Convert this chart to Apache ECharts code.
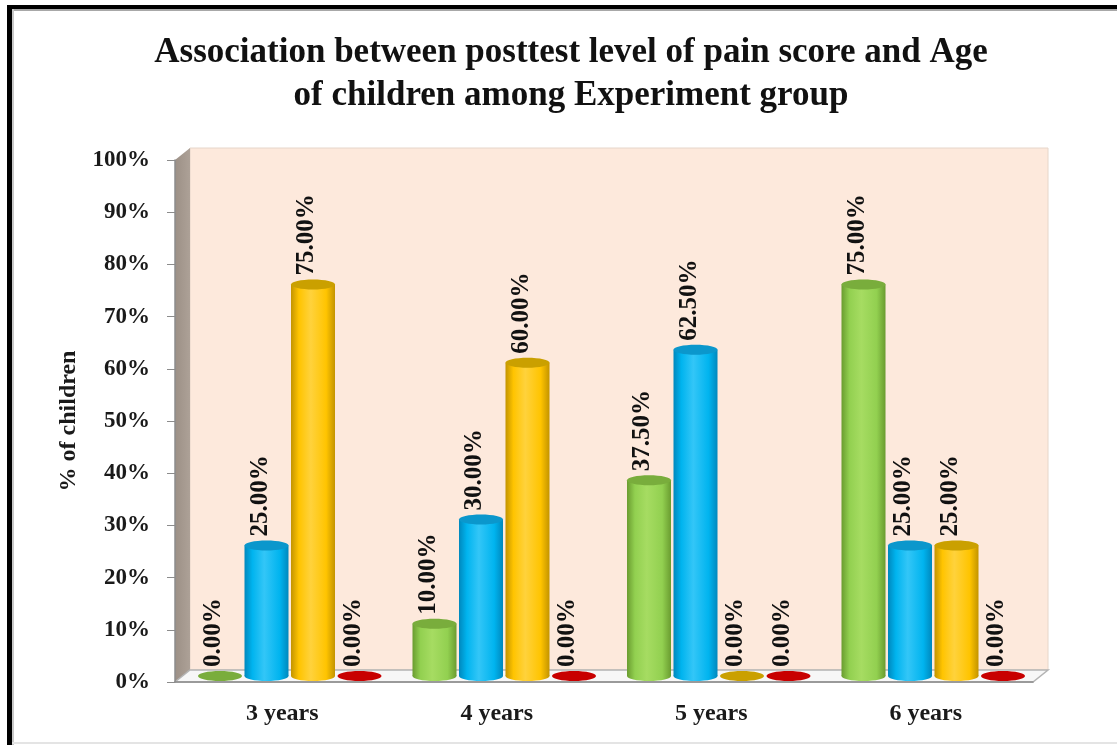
<!DOCTYPE html>
<html>
<head>
<meta charset="utf-8">
<script src="https://cdn.jsdelivr.net/npm/echarts@6/dist/echarts.min.js"></script>
<style>
  html, body { margin: 0; padding: 0; background: #ffffff; }
  #chart { width: 1117px; height: 745px; }
</style>
</head>
<body>
<div id="chart"></div>
<script>
// ---- data ----
const categories = ['3 years', '4 years', '5 years', '6 years'];
const seriesNames = ['Mild pain', 'Moderate pain', 'Severe pain', 'Worst pain'];
const mildValues = [0, 10, 37.5, 75];
const moderateValues = [25, 30, 62.5, 25];
const severeValues = [75, 60, 0, 25];
const worstValues = [0, 0, 0, 0];
const yMin = 0, yMax = 100, yStep = 10;

// ---- layout / style ----
const W = 1117, H = 745;
const GRID = { left: 175, top: 160, right: 84, bottom: 63 };
const DEPTH_X = 15, DEPTH_Y = -12;   // 3D depth of the box walls
const SLOT = 46.5;                   // distance between neighbouring cylinders
const BAR_W = 44;                    // cylinder diameter
const RY = 5;                        // vertical radius of the elliptical caps
const SERIF = '"Liberation Serif", "Times New Roman", serif';

const palettes = [
  { light: '#a6dc62', body: '#92d050', edge: '#6a9c30', cap: '#79ad3c' },
  { light: '#33c6f7', body: '#00b4ef', edge: '#0088bd', cap: '#0b97cc' },
  { light: '#ffd23c', body: '#ffc400', edge: '#c39400', cap: '#caa000' },
  { light: '#d81c1c', body: '#c40000', edge: '#9a0000', cap: '#c80000' }
];

function bodyGradient(p) {
  return new echarts.graphic.LinearGradient(0, 0, 1, 0, [
    { offset: 0, color: p.edge },
    { offset: 0.18, color: p.body },
    { offset: 0.45, color: p.light },
    { offset: 0.8, color: p.body },
    { offset: 1, color: p.edge }
  ]);
}

function makeCylinderSeries(name, values, slot) {
  const p = palettes[slot];
  return {
    name: name,
    type: 'custom',
    coordinateSystem: 'cartesian2d',
    encode: { x: 0, y: 1 },
    data: values.map((v, i) => [i, v]),
    z: 5,
    renderItem: function (params, api) {
      const cat = api.value(0);
      const v = api.value(1);
      const base = api.coord([cat, 0]);
      const top = api.coord([cat, v]);
      const cx = base[0] + (slot - 1.5) * SLOT + DEPTH_X / 2;
      const by = base[1] + DEPTH_Y / 2;
      const ty = top[1] + DEPTH_Y / 2;
      const children = [];
      if (v > 0) {
        const grad = bodyGradient(p);
        children.push({
          type: 'ellipse',
          shape: { cx: cx, cy: by, rx: BAR_W / 2, ry: RY },
          style: { fill: grad }
        });
        children.push({
          type: 'rect',
          shape: { x: cx - BAR_W / 2, y: ty, width: BAR_W, height: by - ty },
          style: { fill: grad }
        });
      }
      children.push({
        type: 'ellipse',
        shape: { cx: cx, cy: ty, rx: BAR_W / 2, ry: RY },
        style: { fill: p.cap }
      });
      children.push({
        type: 'text',
        x: cx - 6,
        y: ty - 9,
        rotation: Math.PI / 2,
        style: {
          text: v.toFixed(2) + '%',
          fill: '#111111',
          fontFamily: SERIF,
          fontWeight: 'bold',
          fontSize: 25,
          align: 'left',
          verticalAlign: 'middle'
        }
      });
      return { type: 'group', children: children };
    }
  };
}

// box walls derived from the grid rectangle
const gx0 = GRID.left, gx1 = W - GRID.right;
const gy0 = GRID.top, gy1 = H - GRID.bottom;

const graphics = [
  // outer frame
  { type: 'rect', shape: { x: 7, y: 5, width: W - 7, height: 4 }, style: { fill: '#000' }, z: -20 },
  { type: 'rect', shape: { x: 7, y: 5, width: 5, height: H - 5 }, style: { fill: '#000' }, z: -20 },
  { type: 'rect', shape: { x: 12, y: 9, width: W - 12, height: 2 }, style: { fill: '#a8a8a8' }, z: -20 },
  { type: 'rect', shape: { x: 12, y: 9, width: 2, height: H - 9 }, style: { fill: '#c8c8c8' }, z: -20 },
  { type: 'rect', shape: { x: 12, y: H - 3, width: W - 12, height: 2 }, style: { fill: '#e4e4e4' }, z: -20 },
  // back wall
  {
    type: 'rect',
    shape: { x: gx0 + DEPTH_X, y: gy0 + DEPTH_Y, width: gx1 - gx0, height: gy1 - gy0 },
    style: { fill: '#fde9dc', stroke: '#e6d6ca', lineWidth: 1 },
    z: -15
  },
  // side wall
  {
    type: 'polygon',
    shape: { points: [[gx0, gy1], [gx0, gy0], [gx0 + DEPTH_X, gy0 + DEPTH_Y], [gx0 + DEPTH_X, gy1 + DEPTH_Y]] },
    style: {
      fill: new echarts.graphic.LinearGradient(0, 0, 1, 0, [
        { offset: 0, color: '#9c9086' }, { offset: 1, color: '#ada197' }
      ])
    },
    z: -14
  },
  // floor
  {
    type: 'polygon',
    shape: { points: [[gx0, gy1], [gx1, gy1], [gx1 + DEPTH_X, gy1 + DEPTH_Y], [gx0 + DEPTH_X, gy1 + DEPTH_Y]] },
    style: { fill: '#f7f7f7', stroke: '#b4b4b4', lineWidth: 1.5 },
    z: -14
  }
];

const chart = echarts.init(document.getElementById('chart'), null, { renderer: 'canvas' });
chart.setOption({
  backgroundColor: '#ffffff',
  animation: false,
  title: {
    text: 'Association between posttest level of pain score and Age\nof children among Experiment group',
    left: 566,
    top: 26,
    textAlign: 'center',
    textStyle: {
      fontFamily: SERIF,
      fontWeight: 'bold',
      fontSize: 35,
      lineHeight: 43,
      color: '#111111'
    }
  },
  graphic: { elements: graphics },
  grid: { left: GRID.left, top: GRID.top, right: GRID.right, bottom: GRID.bottom, containLabel: false },
  xAxis: {
    type: 'category',
    data: categories,
    axisLine: { show: true, lineStyle: { color: '#8c8c8c', width: 1.5 } },
    axisTick: { show: false },
    axisLabel: {
      margin: 20,
      fontFamily: SERIF,
      fontWeight: 'bold',
      fontSize: 24,
      color: '#1a1a1a'
    },
    splitLine: { show: false }
  },
  yAxis: {
    type: 'value',
    min: yMin,
    max: yMax,
    interval: yStep,
    name: '% of children',
    nameLocation: 'middle',
    nameRotate: 90,
    nameGap: 94,
    nameTextStyle: {
      fontFamily: SERIF,
      fontWeight: 'bold',
      fontSize: 24,
      color: '#1a1a1a'
    },
    axisLine: { show: true, lineStyle: { color: '#8c8c8c', width: 1.5 } },
    axisTick: { show: true, inside: false, length: 8, lineStyle: { color: '#8c8c8c' } },
    axisLabel: {
      margin: 25,
      formatter: '{value}%',
      fontFamily: SERIF,
      fontWeight: 'bold',
      fontSize: 23,
      color: '#1a1a1a'
    },
    splitLine: { show: false }
  },
  series: [
    makeCylinderSeries(seriesNames[0], mildValues, 0),
    makeCylinderSeries(seriesNames[1], moderateValues, 1),
    makeCylinderSeries(seriesNames[2], severeValues, 2),
    makeCylinderSeries(seriesNames[3], worstValues, 3)
  ]
});
</script>
</body>
</html>
